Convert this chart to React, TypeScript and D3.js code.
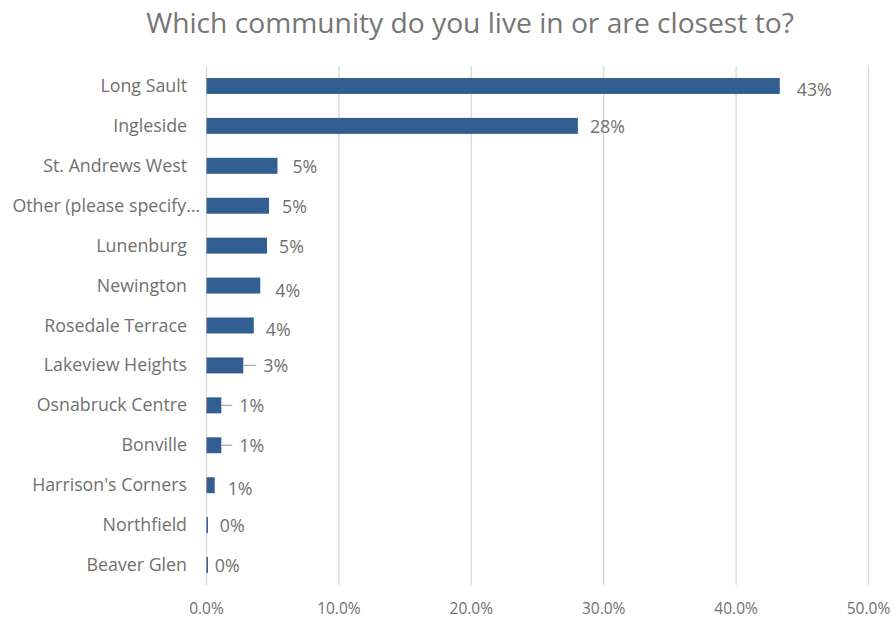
import React from "react";
import * as d3 from "d3";

const categories = [
  "Long Sault",
  "Ingleside",
  "St. Andrews West",
  "Other (please specify…",
  "Lunenburg",
  "Newington",
  "Rosedale Terrace",
  "Lakeview Heights",
  "Osnabruck Centre",
  "Bonville",
  "Harrison's Corners",
  "Northfield",
  "Beaver Glen",
];
const values = [43.3, 28.05, 5.36, 4.72, 4.57, 4.06, 3.57, 2.78, 1.12, 1.12, 0.62, 0.1, 0.1];
const labels = ["43%", "28%", "5%", "5%", "5%", "4%", "4%", "3%", "1%", "1%", "1%", "0%", "0%"];
const leader = [false, false, false, false, false, false, false, true, true, true, false, false, false];
const labelDx = [17, 12, 15, 13, 12, 15, 12, 20, 18, 18, 13, 12, 7];
const labelDy = [4, 1, 1, 1, 1, 5, 4, 1, 1, 1, 4, 1, 1];
const ticks = [0, 10, 20, 30, 40, 50];

const W = 894;
const H = 620;
const FONT = "'Open Sans', sans-serif";

export default function App() {
  const x = d3.scaleLinear().domain([0, 50]).range([206.5, 868.5]);
  const y = d3.scaleBand().domain(categories).range([66, 585]).paddingInner(0.6).paddingOuter(0.3);
  const gray = "#707070";
  return (
    <svg width={W} height={H} style={{ position: "absolute", left: 0, top: 0, background: "#fff" }}>
      <text x={470} y={33} textAnchor="middle" fontFamily={FONT} fontSize={28.2} fill="#767676">
        Which community do you live in or are closest to?
      </text>
      {ticks.map((t) => (
        <g key={t}>
          <line x1={x(t)} x2={x(t)} y1={66} y2={585} stroke="#d9d9d9" strokeWidth={1.3} />
          <text x={x(t)} y={614} textAnchor="middle" fontFamily={FONT} fontSize={15.5} fill={gray}>
            {t.toFixed(1)}%
          </text>
        </g>
      ))}
      {categories.map((c, i) => {
        const by = y(c)!;
        const bh = y.bandwidth();
        const cy = by + bh / 2;
        const x1 = x(values[i]);
        const truncated = c.endsWith("…");
        return (
          <g key={c}>
            <text x={truncated ? 200 : 187} y={cy + 6} textAnchor="end" fontFamily={FONT} fontSize={17.8} fill={gray}>
              {c}
            </text>
            <rect x={x(0)} y={by} width={Math.max(1.5, x1 - x(0))} height={bh} fill="#335e92" />
            {leader[i] && (
              <line x1={x1} x2={x1 + labelDx[i] - 7} y1={cy} y2={cy} stroke="#a6a6a6" strokeWidth={1.2} />
            )}
            <text x={x1 + labelDx[i]} y={cy + labelDy[i] + 6} fontFamily={FONT} fontSize={17.8} fill={gray}>
              {labels[i]}
            </text>
          </g>
        );
      })}
    </svg>
  );
}
